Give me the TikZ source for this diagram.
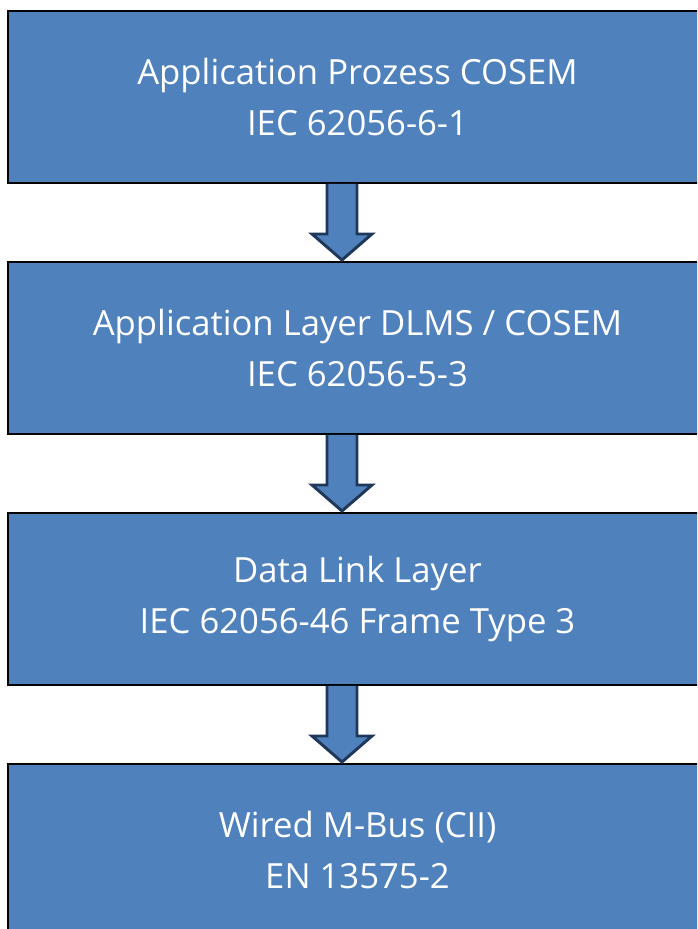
\documentclass[tikz,border=0pt]{standalone}
\usepackage{fontspec}
\setmainfont{Open Sans}
\usetikzlibrary{positioning,calc}
\definecolor{layerblue}{RGB}{79,129,189}
\definecolor{arrowline}{RGB}{31,56,90}

\newcommand{\layerarrow}[2]{%
    \draw[flow]
    ($(#1.south)+(-30.5,0)$) -- ++(0,-50) -- ++(-15,0) -- ($(#2.north)+(-15.5,1)$)
    -- ($(#1.south)+(14.5,-50)$) -- ++(-15,0) -- ++(0,50);
}

\begin{document}
\begin{tikzpicture}[x=0.75pt,y=0.75pt]
    \tikzstyle{every node} = [font=\fontsize{26}{38.5}\selectfont]
    \tikzstyle{layer} = [draw=black, line width=1.5pt, fill=layerblue, text=white, rectangle, minimum width=524pt, minimum height=129pt, align=center]
    \tikzstyle{flow} = [draw=arrowline, line width=2.2pt, fill=layerblue, line join=miter]
    \clip (0,0) rectangle (697,929);
    % place nodes
    \node[layer](prozess) at (357.5,832){Application Prozess COSEM\\IEC 62056-6-1};
    \node[layer,below of=prozess,node distance=188.25pt](dlms){Application Layer DLMS / COSEM\\IEC 62056-5-3};
    \node[layer,below of=dlms,node distance=188.25pt](link){Data Link Layer\\IEC 62056-46 Frame Type 3};
    \node[layer,below of=link,node distance=188.25pt](mbus){Wired M-Bus (CII)\\EN 13575-2};

    % Connections
    \layerarrow{prozess}{dlms}
    \layerarrow{dlms}{link}
    \layerarrow{link}{mbus}
\end{tikzpicture}
\end{document}
